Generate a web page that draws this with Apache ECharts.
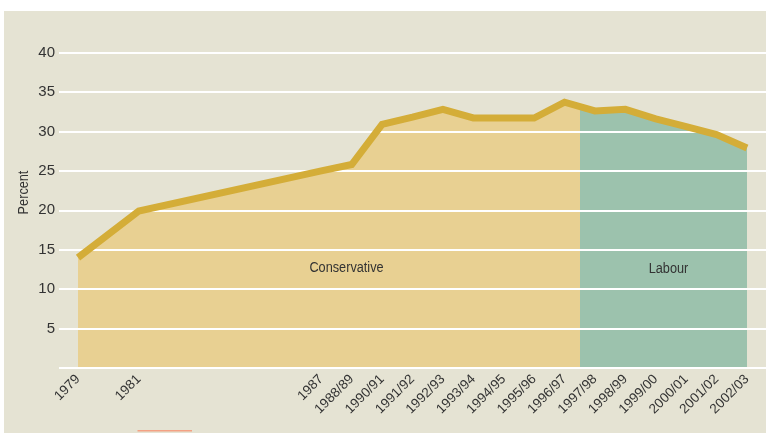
<!DOCTYPE html>
<html>
<head>
<meta charset="utf-8">
<script src="https://cdn.jsdelivr.net/npm/echarts@6/dist/echarts.min.js"></script>
<style>
  html, body { margin: 0; padding: 0; background: #ffffff; }
  #chart { position: absolute; left: 4px; top: 11px; width: 762px; height: 422px; background: #e5e3d3; }
</style>
</head>
<body>
<div id="chart"></div>
<script>
// ---- data ----
const categories = ['1979','1981','1987','1988/89','1990/91','1991/92','1992/93','1993/94','1994/95','1995/96','1996/97','1997/98','1998/99','1999/00','2000/01','2001/02','2002/03'];
const xPositions = [0, 2, 8, 9, 10, 11, 12, 13, 14, 15, 16, 17, 18, 19, 20, 21, 22];
const percentValues = [14.0, 19.9, 25.0, 25.8, 30.9, 31.8, 32.8, 31.7, 31.7, 31.7, 33.7, 32.6, 32.8, 31.6, 30.6, 29.6, 27.9];
const yTicks = [0, 5, 10, 15, 20, 25, 30, 35, 40];
const governmentChange = 16.5; // boundary between Conservative and Labour periods
const periodLabels = ['Conservative', 'Labour'];
const yAxisTitle = 'Percent';

const FONT = "'Liberation Sans', Arial, sans-serif";
const seriesData = xPositions.map((x, i) => [x, percentValues[i]]);
const labelByPos = {};
xPositions.forEach((x, i) => { labelByPos[x] = categories[i]; });

const xFirst = xPositions[0], xLast = xPositions[xPositions.length - 1];
const split = (governmentChange - xFirst) / (xLast - xFirst);
const TAN = '#e8d092', GREEN = '#9cc2ad';

const chart = echarts.init(document.getElementById('chart'), null, { renderer: 'canvas' });
chart.setOption({
  animation: false,
  backgroundColor: 'transparent',
  grid: { left: 55, right: 0, top: 41.5, height: 315.6, containLabel: false },
  xAxis: {
    type: 'value',
    min: -0.625,
    max: 22.625,
    axisLine: { show: false },
    axisTick: { show: false },
    splitLine: { show: false },
    axisLabel: {
      customValues: xPositions,
      formatter: v => labelByPos[v] || '',
      rotate: 45,
      margin: 9,
      fontFamily: FONT,
      fontSize: 13.5,
      color: '#333333'
    }
  },
  yAxis: {
    type: 'value',
    min: yTicks[0],
    max: yTicks[yTicks.length - 1],
    interval: 5,
    axisLine: { show: false },
    axisTick: { show: false },
    splitLine: { show: true, lineStyle: { color: '#ffffff', width: 2 } },
    axisLabel: {
      formatter: v => (v === 0 ? '' : String(v)),
      margin: 4,
      fontFamily: FONT,
      fontSize: 15,
      color: '#333333'
    }
  },
  series: [
    {
      type: 'line',
      z: -1,
      data: seriesData,
      showSymbol: false,
      symbol: 'none',
      lineStyle: { width: 0, opacity: 0 },
      areaStyle: {
        opacity: 1,
        color: {
          type: 'linear', x: 0, y: 0, x2: 1, y2: 0,
          colorStops: [
            { offset: 0, color: TAN },
            { offset: split, color: TAN },
            { offset: split, color: GREEN },
            { offset: 1, color: GREEN }
          ]
        }
      }
    },
    {
      type: 'line',
      z: 3,
      data: seriesData,
      showSymbol: false,
      symbol: 'none',
      lineStyle: { width: 7, color: '#d4ad38', cap: 'butt', join: 'miter' },
      itemStyle: { color: '#d4ad38' }
    }
  ],
  graphic: [
    {
      type: 'text', x: 19.5, y: 181.5, rotation: Math.PI / 2, scaleX: 0.82, z: 10,
      style: { text: yAxisTitle, fill: '#333333', font: '15.5px ' + FONT, align: 'center', verticalAlign: 'middle' }
    },
    {
      type: 'text', x: 342.5, y: 256.5, scaleX: 0.82, z: 10,
      style: { text: periodLabels[0], fill: '#333333', font: '15.5px ' + FONT, align: 'center', verticalAlign: 'middle' }
    },
    {
      type: 'text', x: 664.5, y: 258, scaleX: 0.82, z: 10,
      style: { text: periodLabels[1], fill: '#333333', font: '15.5px ' + FONT, align: 'center', verticalAlign: 'middle' }
    },
    {
      type: 'rect', z: 10,
      shape: { x: 133.5, y: 419, width: 54.5, height: 1.5 },
      style: { fill: '#f4a184' }
    }
  ]
});
</script>
</body>
</html>
